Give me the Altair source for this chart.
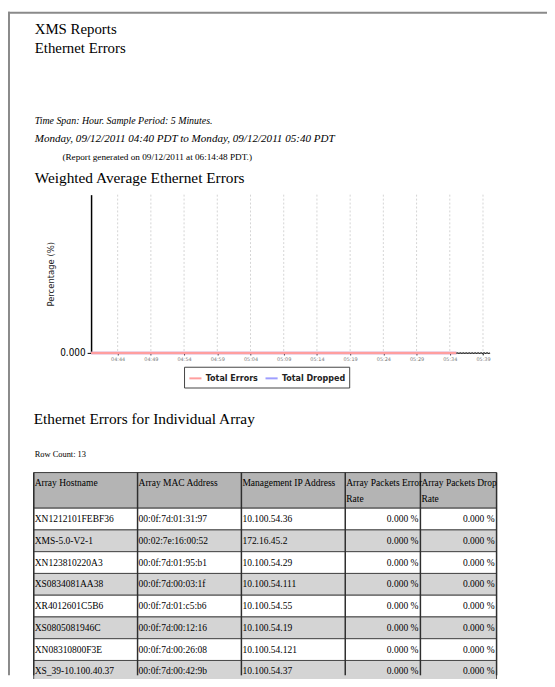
import altair as alt
import pandas as pd

# ---------------- text content ----------------
report_title = "XMS Reports"
report_subtitle = "Ethernet Errors"
span_line = "Time Span: Hour. Sample Period: 5 Minutes."
range_line = "Monday, 09/12/2011 04:40 PDT to Monday, 09/12/2011 05:40 PDT"
generated_line = "(Report generated on 09/12/2011 at 06:14:48 PDT.)"
chart_title = "Weighted Average Ethernet Errors"
table_title = "Ethernet Errors for Individual Array"
row_count_line = "Row Count: 13"

# ---------------- chart data ----------------
sample_times = ["04:40", "04:45", "04:50", "04:55", "05:00", "05:05",
                "05:10", "05:15", "05:20", "05:25", "05:30", "05:35"]
total_errors = [0.0, 0.0, 0.0, 0.0, 0.0, 0.0, 0.0, 0.0, 0.0, 0.0, 0.0, 0.0]
total_dropped = [0.0, 0.0, 0.0, 0.0, 0.0, 0.0, 0.0, 0.0, 0.0, 0.0, 0.0, 0.0]
pending_times = ["05:35", "05:40"]
pending_values = [0.0, 0.0]
axis_tick_times = ["04:44", "04:49", "04:54", "04:59", "05:04", "05:09",
                   "05:14", "05:19", "05:24", "05:29", "05:34", "05:39"]
y_tick_values = [0.0]
series_names = ["Total Errors", "Total Dropped"]
series_colors = ["#ff9e9e", "#9e9eff"]

# ---------------- table data ----------------
header_line1 = ["Array Hostname", "Array MAC Address", "Management IP Address",
                "Array Packets Error", "Array Packets Drop"]
header_line2 = ["", "", "", "Rate", "Rate"]
hostnames = ["XN1212101FEBF36", "XMS-5.0-V2-1", "XN123810220A3", "XS0834081AA38",
             "XR4012601C5B6", "XS0805081946C", "XN08310800F3E", "XS_39-10.100.40.37"]
mac_addresses = ["00:0f:7d:01:31:97", "00:02:7e:16:00:52", "00:0f:7d:01:95:b1",
                 "00:0f:7d:00:03:1f", "00:0f:7d:01:c5:b6", "00:0f:7d:00:12:16",
                 "00:0f:7d:00:26:08", "00:0f:7d:00:42:9b"]
ip_addresses = ["10.100.54.36", "172.16.45.2", "10.100.54.29", "10.100.54.111",
                "10.100.54.55", "10.100.54.19", "10.100.54.121", "10.100.54.37"]
error_rates = ["0.000 %", "0.000 %", "0.000 %", "0.000 %",
               "0.000 %", "0.000 %", "0.000 %", "0.000 %"]
drop_rates = ["0.000 %", "0.000 %", "0.000 %", "0.000 %",
              "0.000 %", "0.000 %", "0.000 %", "0.000 %"]

# ---------------- layout (pixels) ----------------
W, H = 545, 671
X0, X1 = 84, 487          # plot area x range
Y_TOP, Y_BOT = 185, 345   # plot area y range
COL_EDGES = [26, 131, 236, 341, 417, 494]
HEAD_TOP, HEAD_BOT = 466, 502
ROW_H = 22

SERIF = "Liberation Serif"
SANS_C = "DejaVu Sans Condensed, DejaVu Sans"


def stamp(t):
    return f"2011-09-12T{t}:00"


def dt(t):
    h, m = t.split(":")
    return alt.DateTime(year=2011, month=9, date=12, hours=int(h), minutes=int(m))


one = pd.DataFrame({"k": [0]})


def label(text, x, y, size, style="normal", font=SERIF, align="left",
          color="black", weight="normal"):
    return alt.Chart(one).mark_text(
        text=text, font=font, fontSize=size, fontStyle=style, align=align,
        baseline="alphabetic", color=color, fontWeight=weight
    ).encode(x=alt.value(x), y=alt.value(y))


# ---------------- page frame + heading texts ----------------
frame_top = alt.Chart(one).mark_rule(color="#8a8a8a", strokeWidth=2).encode(
    x=alt.value(0), x2=alt.value(W), y=alt.value(1))
frame_left = alt.Chart(one).mark_rule(color="#8a8a8a", strokeWidth=2).encode(
    x=alt.value(1), y=alt.value(0), y2=alt.value(H))

texts = [
    label(report_title, 27, 23, 15),
    label(report_subtitle, 27, 42, 15),
    label(span_line, 27, 114, 10, style="italic"),
    label(range_line, 27, 132, 11.2, style="italic"),
    label(generated_line, 55, 150, 9.3),
    label(chart_title, 27, 173, 15.5),
    label(table_title, 26, 417, 15.5),
    label(row_count_line, 27, 450, 8.5),
]

# ---------------- line chart ----------------
x_scale = alt.Scale(domain=[dt("04:40"), dt("05:40")], range=[X0, X1])
x_axis = alt.Axis(
    values=[dt(t) for t in axis_tick_times], format="%H:%M", title=None,
    labelFont="DejaVu Sans", labelFontSize=5, labelColor="#777",
    labelPadding=2, labelOverlap=False, labelFlush=False,
    tickSize=2, tickColor="black", domainColor="black", domainWidth=1,
    grid=False, offset=Y_BOT - H)
x_enc = alt.X("time:T", scale=x_scale, axis=x_axis)

y_scale = alt.Scale(domain=[0, 1], range=[Y_BOT, Y_TOP])
y_axis = alt.Axis(
    values=y_tick_values, format=".3f", title="Percentage (%)",
    labelFont=SANS_C, labelFontSize=10, labelColor="black", labelPadding=2,
    tickSize=4, tickColor="black", domainColor="black", domainWidth=1.5,
    grid=False, offset=-X0,
    titleFont=SANS_C, titleFontSize=9.5, titleFontWeight="normal",
    titleColor="#222", titleX=-41, titleY=(Y_TOP + Y_BOT) / 2,
    titleBaseline="middle", titleAngle=270)
y_enc = alt.Y("value:Q", scale=y_scale, axis=y_axis)

color_enc = alt.Color(
    "series:N",
    scale=alt.Scale(domain=series_names, range=series_colors),
    legend=alt.Legend(
        orient="none", legendX=178, legendY=359, direction="horizontal",
        title=None, symbolType="stroke", symbolStrokeWidth=2, symbolSize=150,
        labelFont=SANS_C, labelFontWeight="bold", labelFontSize=9,
        labelColor="#222", strokeColor="#444", fillColor="white",
        padding=4, columnPadding=3, labelOffset=3))

grid_df = pd.DataFrame({"time": [stamp(t) for t in axis_tick_times]})
dropped_df = pd.DataFrame({"time": [stamp(t) for t in sample_times],
                           "value": total_dropped,
                           "series": ["Total Dropped"] * len(sample_times)})
errors_df = pd.DataFrame({"time": [stamp(t) for t in sample_times],
                          "value": total_errors,
                          "series": ["Total Errors"] * len(sample_times)})
pending_df = pd.DataFrame({"time": [stamp(t) for t in pending_times],
                           "value": pending_values})

grid = alt.Chart(grid_df).mark_rule(
    color="#d4d4d4", strokeWidth=1, strokeDash=[2, 2]
).encode(x=x_enc, y=alt.value(Y_TOP), y2=alt.value(Y_BOT))
dropped_line = alt.Chart(dropped_df).mark_line(strokeWidth=2.5).encode(
    x=x_enc, y=y_enc, color=color_enc)
errors_line = alt.Chart(errors_df).mark_line(strokeWidth=2.5).encode(
    x=x_enc, y=y_enc, color=color_enc)
pending_line = alt.Chart(pending_df).mark_line(
    strokeWidth=2, strokeDash=[2, 1], color="#6a6a6a"
).encode(x=x_enc, y=y_enc)

line_chart = alt.layer(grid, dropped_line, errors_line, pending_line)

# ---------------- table ----------------
table_df = pd.DataFrame({
    "idx": list(range(len(hostnames))),
    "host": hostnames, "mac": mac_addresses, "ip": ip_addresses,
    "err": error_rates, "drop": drop_rates,
})
row_y = alt.Y("idx:O", axis=None, scale=alt.Scale(
    type="band", domain=list(range(len(hostnames))),
    range=[HEAD_BOT, HEAD_BOT + ROW_H * len(hostnames)],
    paddingInner=0, paddingOuter=0))

head_rect = alt.Chart(one).mark_rect(
    fill="#b4b4b4", stroke="#3a3a3a", strokeWidth=1
).encode(x=alt.value(COL_EDGES[0]), x2=alt.value(COL_EDGES[-1]),
         y=alt.value(HEAD_TOP), y2=alt.value(HEAD_BOT))
row_rects = alt.Chart(table_df).mark_rect(stroke="#4a4a4a", strokeWidth=1).encode(
    x=alt.value(COL_EDGES[0]), x2=alt.value(COL_EDGES[-1]), y=row_y,
    fill=alt.condition("datum.idx % 2 == 1", alt.value("#d4d4d4"), alt.value("white")))

table_layers = [head_rect, row_rects]
for e in COL_EDGES:
    table_layers.append(alt.Chart(one).mark_rule(color="#2e2e2e", strokeWidth=1.5).encode(
        x=alt.value(e), y=alt.value(HEAD_TOP), y2=alt.value(H)))

fields = ["host", "mac", "ip", "err", "drop"]
for i, f in enumerate(fields):
    left, right = COL_EDGES[i], COL_EDGES[i + 1]
    table_layers.append(label(header_line1[i], left + 1, 480, 9.6))
    if header_line2[i]:
        table_layers.append(label(header_line2[i], left + 1, 495.5, 9.6))
    numeric = f in ("err", "drop")
    table_layers.append(alt.Chart(table_df).mark_text(
        font=SERIF, fontSize=9.6, color="black", baseline="middle",
        align="right" if numeric else "left"
    ).encode(x=alt.value(right - 2 if numeric else left + 1), y=row_y,
             text=alt.Text(f"{f}:N")))

table = alt.layer(*table_layers)

chart = alt.layer(
    frame_top, frame_left, *texts, line_chart, table
).resolve_scale(y="independent").properties(
    width=W, height=H, padding=0,
    autosize=alt.AutoSizeParams(type="none"),
    background="white",
).configure_view(stroke=None)

chart.save("out.html", embed_options={"renderer": "svg", "actions": False})
